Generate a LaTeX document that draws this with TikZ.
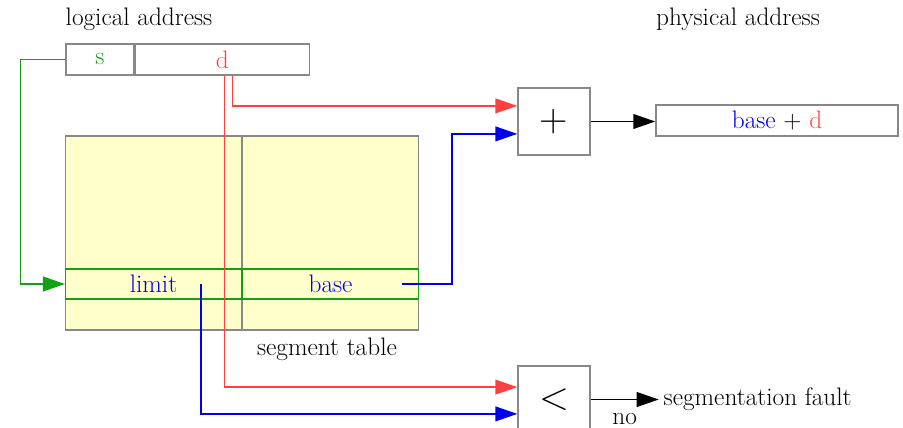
\documentclass[tikz,border=0pt]{standalone}
\usepackage{tikz}
\usetikzlibrary{arrows.meta,positioning}
\usepackage{xcolor}
\definecolor{addrred}{RGB}{255, 64, 64}
\definecolor{addrblue}{RGB}{0, 0, 235}
\definecolor{addrgreen}{RGB}{20, 160, 20}
\definecolor{tabfill}{RGB}{255, 255, 204}
\definecolor{boxgray}{RGB}{136, 136, 136}

\begin{document}
\begin{tikzpicture}[
    x=0.025cm, y=-0.025cm,
    font=\fontsize{18}{21}\selectfont,
    cell/.style={rectangle, draw=boxgray, line width=1pt, inner sep=0pt, minimum height=0.775cm},
    tabcol/.style={rectangle, draw=boxgray, line width=1pt, fill=tabfill, inner sep=0pt, minimum width=4.39cm, minimum height=4.85cm},
    tabrow/.style={rectangle, draw=addrgreen, line width=1pt, inner sep=0pt, minimum width=4.39cm, minimum height=0.75cm, text=addrblue},
    opbox/.style={rectangle, draw=boxgray, line width=1pt, fill=white, inner sep=0pt, minimum width=1.8cm, minimum height=1.675cm, font=\fontsize{28}{30}\selectfont},
    link/.style={line width=1.1pt, -{Triangle[length=0.55cm, width=0.37cm]}}
]
\useasboundingbox (0,0) rectangle (903,428);

% Logical address
\node (logical) at (139,19) {logical address};
\node[cell, minimum width=1.7cm, text=addrgreen] (s) at (100,59.5) {s};
\node[cell, minimum width=4.35cm, right=0pt of s, text=addrred] (d) {d};

% Segment table
\node[tabcol] (tabL) at (153.5,233) {};
\node[tabcol, right=0pt of tabL] (tabR) {};
\node[tabrow] (limit) at (153.5,284) {limit};
\node[tabrow, right=0pt of limit] (base) {base};
\node (segtab) at (327,349) {segment table};

% Adder and comparator
\node[opbox] (plus) at (554,121.5) {+};
\node[opbox] (less) at (554,399.5) {<};

% Physical address
\node (physical) at (738,19) {physical address};
\node[cell, minimum width=6.05cm] (phys) at (777,120.5) {\textcolor{addrblue}{base} + \textcolor{addrred}{d}};
\node[right=1.7cm of less] (fault) {segmentation fault};

% Arrows
\draw[link, addrgreen] (s.west) -- ++(-45,0) |- (limit.west);
\draw[link, addrred] ([xshift=0.25cm]d.south) |- ([yshift=0.39cm]plus.west);
\draw[link, addrred] ([xshift=0.05cm]d.south) |- ([yshift=0.31cm]less.west);
\draw[link, addrblue] ([xshift=1.78cm]base.center) -- ++(50,0) |- ([yshift=-0.31cm]plus.west);
\draw[link, addrblue] ([xshift=1.19cm]limit.center) |- ([yshift=-0.36cm]less.west);
\draw[link, black] (plus.east) -- (plus.east -| phys.west);
\draw[link, black] (less.east) -- node[below, yshift=-6pt] {no} (fault.west);

\end{tikzpicture}
\end{document}
